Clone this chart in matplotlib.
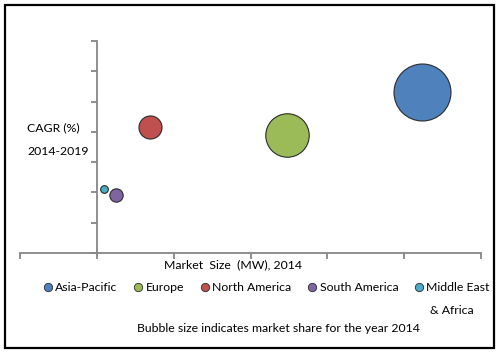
import matplotlib.pyplot as plt
from matplotlib.lines import Line2D
from matplotlib.patches import Rectangle

plt.rcParams['font.family'] = ['Lato', 'DejaVu Sans']

# data
regions = ["Asia-Pacific", "Europe", "North America", "South America", "Middle East"]
market_size = [4.23, 2.47, 0.69, 0.25, 0.09]
cagr = [5.31, 3.89, 4.16, 1.91, 2.11]
share = [55, 32, 9, 3, 1]
colors = ["#4F81BD", "#9BBB59", "#C0504D", "#8064A2", "#4BACC6"]

fig = plt.figure(figsize=(5, 3.54), dpi=100)
ax = fig.add_axes([0.04, 0.2853, 0.922, 0.599])

for x, y, s, c in zip(market_size, cagr, share, colors):
    ax.scatter(x, y, s=s * 30.6, color=c, edgecolors="#2b2b2b", linewidths=0.8, zorder=3)

ax.set_xlim(-1, 5)
ax.set_ylim(0, 7)
ax.set_xticks(range(-1, 6))
ax.set_yticks(range(0, 8))
ax.set_xticklabels([])
ax.set_yticklabels([])
ax.spines["left"].set_position(("data", 0))
ax.spines["top"].set_visible(False)
ax.spines["right"].set_visible(False)
for sp in ["left", "bottom"]:
    ax.spines[sp].set_color("#868686")
    ax.spines[sp].set_linewidth(1.3)
ax.tick_params(axis="both", direction="out", length=4, width=1.3, color="#868686")
ax.patch.set_alpha(0)

fs = 8.8
fig.text(0.054, 0.64, "CAGR (%)", fontsize=fs, va="center")
fig.text(0.054, 0.572, "2014-2019", fontsize=fs, va="center")
fig.text(0.467, 0.252, "Market  Size  (MW), 2014", fontsize=fs, ha="center", va="center")

handles = [Line2D([], [], marker="o", linestyle="none", markersize=6,
                  markerfacecolor=c, markeredgecolor="#2b2b2b", markeredgewidth=0.6)
           for c in colors]
fig.legend(handles, regions, ncol=5, loc="center", bbox_to_anchor=(0.534, 0.188),
           frameon=False, fontsize=fs, handlelength=0.6, handletextpad=0.3,
           columnspacing=1.4, borderaxespad=0)
fig.text(0.86, 0.124, "& Africa", fontsize=fs, va="center")
fig.text(0.556, 0.073, "Bubble size indicates market share for the year 2014",
         fontsize=fs, ha="center", va="center")

fig.patches.append(Rectangle((0.01, 0.017), 0.978, 0.97, transform=fig.transFigure,
                             fill=False, edgecolor="black", linewidth=1.6))

fig.savefig("out.png", dpi=100)
